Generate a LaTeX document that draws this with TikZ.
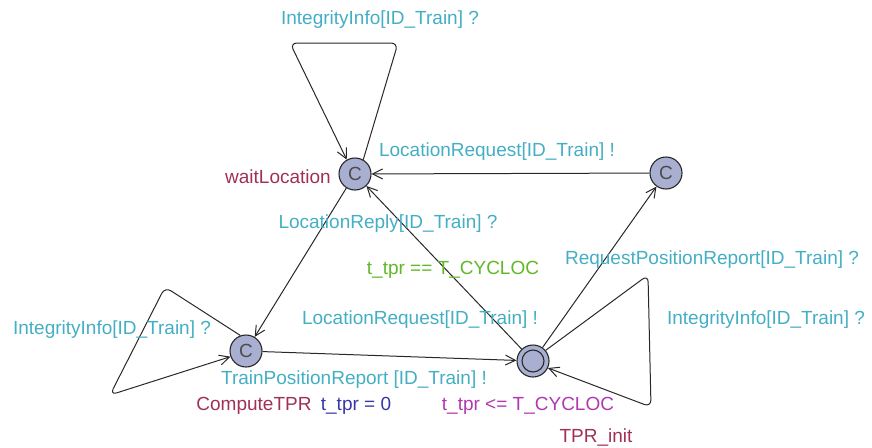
\documentclass[tikz,border=0pt]{standalone}
\usepackage{fontspec}
\setmainfont{Liberation Sans}
\usetikzlibrary{arrows.meta}
\definecolor{synccol}{RGB}{68,174,196}
\definecolor{guardcol}{RGB}{96,184,40}
\definecolor{namecol}{RGB}{160,48,88}
\definecolor{assigncol}{RGB}{56,56,168}
\definecolor{invcol}{RGB}{176,56,176}
\definecolor{locfill}{RGB}{168,175,208}
\definecolor{edgecol}{RGB}{40,40,40}
\tikzset{
  loc/.style={circle, draw=edgecol, line width=1.1pt, fill=locfill, minimum size=32pt, inner sep=0pt, text=black!70, font=\fontsize{19}{19}\selectfont},
  edge/.style={draw=edgecol, line width=1pt, -{Straight Barb[length=10pt,width=10pt,line width=1pt]}},
  loopedge/.style={edge, rounded corners=7pt},
  lbl/.style={font=\fontsize{19}{19}\selectfont, inner sep=0pt},
  sync/.style={lbl, text=synccol},
  guard/.style={lbl, text=guardcol},
  lname/.style={lbl, text=namecol},
  assign/.style={lbl, text=assigncol},
  inv/.style={lbl, text=invcol},
}
\begin{document}
\begin{tikzpicture}[x=1pt, y=-1pt]
\useasboundingbox (0,0) rectangle (872,447);
% locations
\node[loc] (wl) at (355,174) {C};
\node[loc] (rq) at (666,173) {C};
\node[loc] (ct) at (246,351) {C};
\node[loc] (ti) at (533,361) {};
\node[circle, draw=edgecol, line width=1.1pt, minimum size=22pt, inner sep=0pt] (tiin) at (ti) {};
% loop corners
\coordinate (a1) at (398,43);
\coordinate (a2) at (290,43);
\coordinate (b1) at (165,287);
\coordinate (b2) at (110,395);
\coordinate (c1) at (648,275);
\coordinate (c2) at (651,407);
% edges
\draw[loopedge] (wl.60) -- (a1) -- (a2) -- (wl.120);
\draw[edge] (rq) -- (wl);
\draw[edge] (wl) -- (ct);
\draw[loopedge] (ct.110) -- (b1) -- (b2) -- (ct.200);
\draw[edge] (ct) -- (ti);
\draw[edge] (ti) -- (wl);
\draw[edge] (ti) -- (rq);
\draw[loopedge] (ti.40) -- (c1) -- (c2) -- (ti.335);
% labels
\node[sync] (l1) at (380,20) {IntegrityInfo[ID\_Train] ?};
\node[sync] (l2) at (497,152) {LocationRequest[ID\_Train] !};
\node[sync] (l3) at (388,224) {LocationReply[ID\_Train] ?};
\node[guard] (l4) at (453,270) {t\_tpr == T\_CYCLOC};
\node[sync] (l5) at (712,260) {RequestPositionReport[ID\_Train] ?};
\node[sync] (l6) at (420,320) {LocationRequest[ID\_Train] !};
\node[sync] (l7) at (112,330) {IntegrityInfo[ID\_Train] ?};
\node[sync] (l8) at (766,320) {IntegrityInfo[ID\_Train] ?};
\node[sync] (l9) at (354,380) {TrainPositionReport [ID\_Train] !};
\node[lname] (n1) at (278,177) {waitLocation};
\node[lname] (n2) at (254,406) {ComputeTPR};
\node[assign] (s1) at (356,406) {t\_tpr = 0};
\node[inv] (i1) at (528,406) {t\_tpr <= T\_CYCLOC};
\node[lname] (n3) at (596,437) {TPR\_init};
\end{tikzpicture}
\end{document}
